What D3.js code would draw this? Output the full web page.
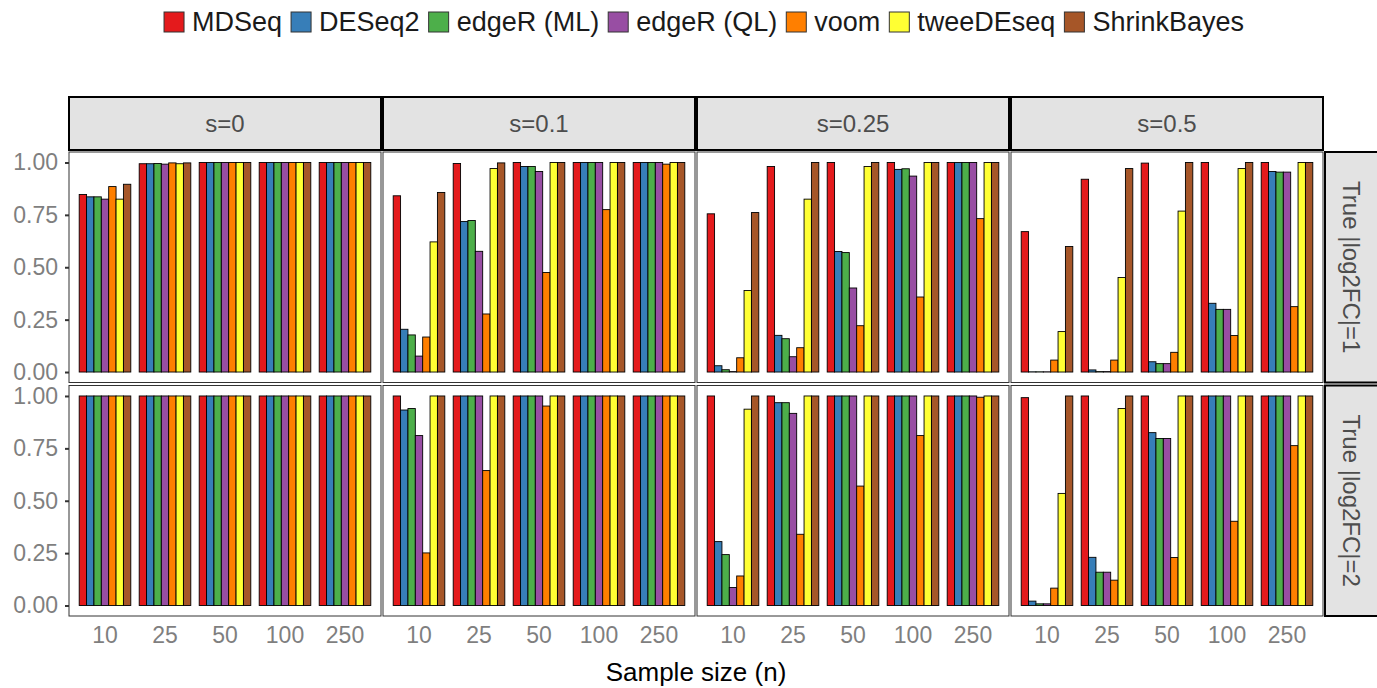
<!DOCTYPE html>
<html>
<head>
<meta charset="utf-8">
<script src="https://cdn.jsdelivr.net/npm/d3@7"></script>
<style>
  html, body { margin: 0; padding: 0; background: #fff; }
  svg { display: block; font-family: "Liberation Sans", Arial, Helvetica, sans-serif; }
</style>
</head>
<body>
<svg id="chart" width="1377" height="688"></svg>
<script>
// Methods compared, sample sizes and facet labels
const methods = ["MDSeq", "DESeq2", "edgeR (ML)", "edgeR (QL)", "voom", "tweeDEseq", "ShrinkBayes"];
const methodColors = ["#E41A1C", "#377EB8", "#4DAF4A", "#984EA3", "#FF7F00", "#FFFF33", "#A65628"];
const sampleSizes = ["10", "25", "50", "100", "250"];
const spreadLabels = ["s=0", "s=0.1", "s=0.25", "s=0.5"];
const foldLabels = ["True |log2FC|=1", "True |log2FC|=2"];
const yTicks = [0, 0.25, 0.5, 0.75, 1];

// Power per sample size (rows) and method (columns), |log2FC| = 1
const lfc1_s0 = [
  [0.847, 0.836, 0.836, 0.825, 0.885, 0.825, 0.896],
  [0.994, 0.994, 0.995, 0.992, 0.998, 0.994, 0.998],
  [1, 1, 1, 1, 1, 1, 1],
  [1, 1, 1, 1, 1, 1, 1],
  [1, 1, 1, 1, 1, 1, 1]
];
const lfc1_s01 = [
  [0.841, 0.204, 0.177, 0.076, 0.167, 0.621, 0.857],
  [0.995, 0.718, 0.723, 0.576, 0.277, 0.971, 0.998],
  [1, 0.981, 0.981, 0.957, 0.475, 1, 1],
  [1, 1, 1, 1, 0.775, 1, 1],
  [1, 1, 1, 1, 0.992, 1, 1]
];
const lfc1_s025 = [
  [0.755, 0.030, 0.011, 0.002, 0.068, 0.389, 0.761],
  [0.981, 0.175, 0.159, 0.073, 0.116, 0.825, 1],
  [1, 0.575, 0.570, 0.401, 0.221, 0.981, 1],
  [1, 0.967, 0.970, 0.935, 0.358, 1, 1],
  [1, 1, 1, 1, 0.732, 1, 1]
];
const lfc1_s05 = [
  [0.670, 0.001, 0.001, 0.001, 0.057, 0.193, 0.599],
  [0.920, 0.010, 0.002, 0.002, 0.057, 0.451, 0.971],
  [0.997, 0.049, 0.040, 0.040, 0.094, 0.768, 1],
  [1, 0.328, 0.299, 0.299, 0.174, 0.971, 1],
  [1, 0.957, 0.954, 0.954, 0.312, 1, 1]
];

// Power per sample size and method, |log2FC| = 2
const lfc2_s0 = [
  [1, 1, 1, 1, 1, 1, 1],
  [1, 1, 1, 1, 1, 1, 1],
  [1, 1, 1, 1, 1, 1, 1],
  [1, 1, 1, 1, 1, 1, 1],
  [1, 1, 1, 1, 1, 1, 1]
];
const lfc2_s01 = [
  [1, 0.933, 0.940, 0.811, 0.251, 1, 1],
  [1, 1, 1, 1, 0.644, 1, 1],
  [1, 1, 1, 1, 0.952, 1, 1],
  [1, 1, 1, 1, 1, 1, 1],
  [1, 1, 1, 1, 1, 1, 1]
];
const lfc2_s025 = [
  [1, 0.305, 0.243, 0.086, 0.141, 0.937, 1],
  [1, 0.968, 0.968, 0.917, 0.340, 1, 1],
  [1, 1, 1, 1, 0.570, 1, 1],
  [1, 1, 1, 1, 0.811, 1, 1],
  [1, 1, 1, 1, 0.994, 1, 1]
];
const lfc2_s05 = [
  [0.992, 0.021, 0.008, 0.008, 0.083, 0.535, 1],
  [1, 0.230, 0.159, 0.159, 0.121, 0.940, 1],
  [1, 0.825, 0.797, 0.797, 0.229, 1, 1],
  [1, 1, 1, 1, 0.402, 1, 1],
  [1, 1, 1, 1, 0.763, 1, 1]
];

const panelValues = [
  [lfc1_s0, lfc1_s01, lfc1_s025, lfc1_s05],
  [lfc2_s0, lfc2_s01, lfc2_s025, lfc2_s05]
];

// Layout
const svg = d3.select("#chart");
const panelLeft = 69, panelTop = 152;
const panelW = 312, panelH = 230.5;
const hGap = 2, vGap = 3;
const stripTop = 97, stripH = 53;
const stripRightW = 54;

const x0 = d3.scaleBand().domain(sampleSizes).range([0, panelW]).paddingInner(0.14).paddingOuter(0.17);
const x1 = d3.scaleBand().domain(methods).range([0, x0.bandwidth()]);
const y = d3.scaleLinear().domain([-0.05, 1.05]).range([panelH, 0]);
const color = d3.scaleOrdinal().domain(methods).range(methodColors);

const textGray = "#7f7f7f";
const stripText = "#4d4d4d";
const axisFont = 23;
const stripFont = 24;

// Legend
const legend = svg.append("g").attr("class", "legend");
const legendFont = 27;
let lx = 0;
methods.forEach((m) => {
  const g = legend.append("g").attr("transform", `translate(${lx},0)`);
  g.append("rect").attr("x", 0).attr("y", -10).attr("width", 20).attr("height", 20)
    .attr("fill", color(m)).attr("stroke", "#333").attr("stroke-width", 1);
  const t = g.append("text").attr("x", 28).attr("y", 0).attr("dy", "0.35em")
    .attr("font-size", legendFont).attr("fill", "#1a1a1a").text(m);
  const w = t.node().getComputedTextLength();
  lx += 28 + w + 9;
});
const legendW = lx - 9;
const centerX = panelLeft + (4 * panelW + 3 * hGap) / 2;
legend.attr("transform", `translate(${centerX - legendW / 2 + 8},22)`);

// Column strips
spreadLabels.forEach((s, c) => {
  const px = panelLeft + c * (panelW + hGap);
  svg.append("rect").attr("x", px).attr("y", stripTop).attr("width", panelW).attr("height", stripH)
    .attr("fill", "#e3e3e3").attr("stroke", "#000").attr("stroke-width", 2);
  svg.append("text").attr("x", px + panelW / 2).attr("y", stripTop + stripH / 2).attr("dy", "0.35em")
    .attr("text-anchor", "middle").attr("font-size", stripFont).attr("fill", stripText).text(s);
});

// Row strips
foldLabels.forEach((f, r) => {
  const py = panelTop + r * (panelH + vGap);
  const sx = panelLeft + 4 * panelW + 3 * hGap + hGap;
  svg.append("rect").attr("x", sx).attr("y", py).attr("width", stripRightW).attr("height", panelH)
    .attr("fill", "#e3e3e3").attr("stroke", "#000").attr("stroke-width", 2);
  svg.append("text").attr("transform", `translate(${sx + 26},${py + panelH / 2}) rotate(90)`)
    .attr("dy", "0.35em").attr("text-anchor", "middle").attr("font-size", stripFont)
    .attr("fill", stripText).text(f);
});

// Panels
panelValues.forEach((row, r) => {
  row.forEach((vals, c) => {
    const px = panelLeft + c * (panelW + hGap);
    const py = panelTop + r * (panelH + vGap);
    const g = svg.append("g").attr("transform", `translate(${px},${py})`);
    g.append("rect").attr("width", panelW).attr("height", panelH)
      .attr("fill", "#fff").attr("stroke", "#333").attr("stroke-width", 1);

    const records = [];
    sampleSizes.forEach((n, i) => {
      methods.forEach((m, j) => records.push({ n, m, v: vals[i][j] }));
    });
    g.selectAll("rect.bar").data(records).join("rect").attr("class", "bar")
      .attr("x", d => x0(d.n) + x1(d.m))
      .attr("width", x1.bandwidth())
      .attr("y", d => y(d.v))
      .attr("height", d => y(0) - y(d.v))
      .attr("fill", d => color(d.m))
      .attr("stroke", "#000").attr("stroke-width", 0.9);

    // y axis on the first column
    if (c === 0) {
      const ax = g.append("g").call(d3.axisLeft(y).tickValues(yTicks).tickFormat(d3.format(".2f")).tickSize(4).tickPadding(7));
      ax.select(".domain").remove();
      ax.selectAll(".tick line").attr("stroke", "#333").attr("stroke-width", 2);
      ax.selectAll(".tick text").attr("font-size", axisFont).attr("fill", textGray)
        .attr("font-family", "Liberation Sans, Arial, sans-serif");
    }
    // x labels on the bottom row
    if (r === panelValues.length - 1) {
      const ax = g.append("g").attr("transform", `translate(0,${panelH})`)
        .call(d3.axisBottom(x0).tickSize(0).tickPadding(11));
      ax.select(".domain").remove();
      ax.selectAll(".tick text").attr("font-size", axisFont).attr("fill", textGray)
        .attr("font-family", "Liberation Sans, Arial, sans-serif");
    }
  });
});

// Axis title
svg.append("text").attr("x", centerX).attr("y", 672).attr("dy", "0.35em")
  .attr("text-anchor", "middle").attr("font-size", 26).attr("fill", "#000").text("Sample size (n)");
</script>
</body>
</html>
